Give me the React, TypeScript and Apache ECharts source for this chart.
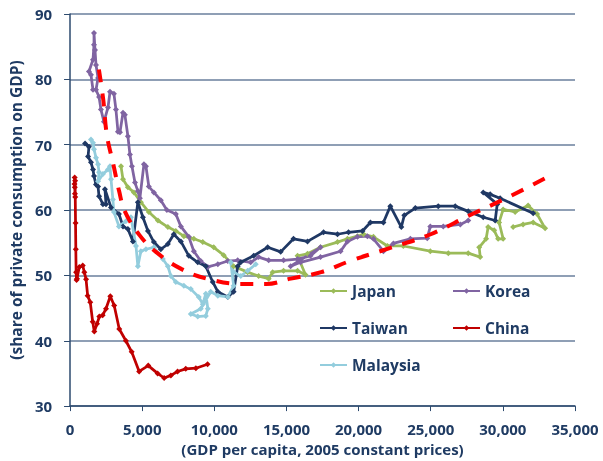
import React, { useEffect, useRef } from "react";
import * as echarts from "echarts";

// GDP per capita (2005 constant prices) vs share of private consumption in GDP (%)
const japan: [number, number][] = [
  [3530, 66.7], [3670, 64.7], [4010, 63.5], [4430, 62.7], [4910, 61.2], [5460, 59.7],
  [6090, 58.4], [6780, 57.4], [7330, 56.8], [7890, 56.0], [8580, 55.6], [9200, 55.1],
  [9960, 54.3], [10650, 53.1], [11340, 51.4], [12310, 50.5], [13070, 49.9], [13770, 49.5],
  [14040, 50.5], [14800, 50.7], [15770, 50.7], [16320, 50.1], [15770, 53.0], [16460, 53.3],
  [17360, 54.3], [18540, 55.1], [19230, 55.6], [19920, 56.0], [20340, 56.3], [21030, 55.9],
  [22000, 54.5], [23100, 54.5], [24970, 53.7], [26220, 53.4], [27600, 53.4], [28430, 52.8],
  [28360, 54.3], [28840, 55.6], [28980, 57.4], [29400, 56.9], [29670, 55.6], [30020, 55.6],
  [29740, 58.1], [30020, 60.1], [30850, 59.7], [31750, 60.7], [32370, 59.4], [32930, 57.2],
  [32100, 58.1], [31400, 57.8], [30710, 57.4]
];

const korea: [number, number][] = [
  [1590, 78.4], [1450, 80.7], [1310, 81.2], [1590, 83.0], [1660, 85.3], [1660, 87.1],
  [1730, 84.5], [1800, 82.2], [1940, 80.2], [1800, 78.4], [2010, 77.3], [2140, 75.4],
  [2350, 73.5], [2630, 75.7], [2770, 78.1], [3040, 77.8], [3180, 75.4], [3320, 72.0],
  [3460, 71.9], [3670, 74.9], [3800, 74.6], [4010, 71.3], [4150, 68.5], [4290, 66.7],
  [4500, 64.2], [4700, 62.9], [4840, 61.8], [5120, 67.0], [5260, 66.7], [5460, 63.6],
  [5810, 62.7], [6290, 61.5], [6710, 60.0], [7330, 59.4], [7680, 57.5], [8230, 55.9],
  [8580, 53.7], [9060, 52.2], [9550, 51.3], [10240, 51.7], [10930, 52.2], [11620, 52.3],
  [12520, 52.0], [13070, 52.8], [13770, 52.3], [14800, 52.3], [15770, 52.5], [16670, 53.0],
  [17360, 54.3], [15290, 51.4], [15980, 52.0], [17360, 52.8], [18750, 53.7], [19230, 55.2],
  [19920, 55.9], [20610, 56.0], [21030, 55.6], [21720, 53.7], [22410, 54.9], [23590, 55.6],
  [24760, 55.7], [24970, 57.5], [25870, 57.5], [27050, 57.8], [27600, 58.4]
];

const taiwan: [number, number][] = [
  [1040, 70.2], [1310, 69.7], [1250, 68.2], [1450, 67.3], [1590, 66.2], [1660, 65.2],
  [1800, 63.9], [1940, 63.6], [2010, 62.1], [2280, 60.9], [2490, 60.9], [2420, 63.2],
  [2840, 60.4], [3390, 59.4], [3670, 57.5], [4010, 57.1], [4360, 55.2], [4700, 61.2],
  [5050, 58.9], [5400, 56.8], [5810, 55.1], [6290, 54.0], [6780, 54.8], [7190, 56.3],
  [7680, 55.2], [8230, 53.0], [8850, 52.0], [9410, 51.4], [9890, 49.0], [10240, 47.5],
  [10930, 46.7], [11340, 47.5], [11620, 51.4], [11830, 52.0], [12730, 53.0], [13700, 54.3],
  [14600, 53.6], [15490, 55.6], [16460, 55.2], [17570, 56.6], [18540, 56.3], [19300, 56.6],
  [20270, 56.8], [20820, 58.1], [21720, 58.1], [22200, 60.6], [22960, 57.4], [23170, 59.2],
  [23930, 60.3], [25520, 60.6], [26700, 60.6], [27600, 59.8], [28640, 58.9], [29470, 58.4],
  [29610, 60.9], [28640, 62.7], [29120, 62.4], [29810, 61.8], [32100, 59.5]
];

const china: [number, number][] = [
  [310, 64.0], [320, 65.0], [330, 63.5], [340, 62.5], [350, 64.5], [360, 62.0],
  [380, 58.0], [400, 54.0], [420, 50.5], [450, 49.3], [480, 49.5], [640, 51.3],
  [880, 51.5], [990, 50.5], [1110, 49.4], [1220, 46.9], [1400, 45.9], [1570, 42.9],
  [1680, 41.4], [1870, 42.6], [2030, 43.7], [2260, 43.9], [2490, 44.9], [2790, 46.8],
  [3060, 45.4], [3410, 41.8], [3870, 40.0], [4270, 38.3], [4790, 35.3], [5420, 36.2],
  [6070, 35.0], [6520, 34.3], [6990, 34.7], [7450, 35.3], [8020, 35.7], [8720, 35.8],
  [9530, 36.4]
];

const malaysia: [number, number][] = [
  [1450, 70.8], [1590, 70.3], [1660, 69.3], [1800, 68.0], [1940, 67.0], [2010, 65.8],
  [1940, 64.4], [2280, 65.5], [2630, 66.2], [2770, 66.7], [2840, 64.7], [2970, 61.6],
  [3040, 59.7], [3390, 57.5], [3870, 58.3], [4220, 58.9], [4570, 54.5], [4700, 51.4],
  [4910, 53.7], [5260, 54.0], [5810, 54.3], [6430, 52.5], [6780, 51.4], [6990, 49.9],
  [7330, 49.0], [7890, 48.4], [8370, 47.9], [8920, 46.7], [9200, 45.6], [9410, 47.2],
  [9550, 44.9], [9410, 43.8], [8850, 43.7], [8370, 44.1], [9060, 44.9], [9750, 47.5],
  [10240, 46.9], [10930, 46.7], [11340, 48.4], [11140, 52.0], [11340, 50.5], [11830, 49.9],
  [12310, 50.7], [12870, 51.7]
];

const trend: [number, number][] = [
  [2000, 81.5], [2300, 76.9], [2550, 71.5], [3000, 67.0], [3400, 62.9], [3800, 59.8],
  [4800, 56.2], [5950, 53.6], [7700, 51.0], [9500, 49.5], [11800, 48.7], [13600, 48.7],
  [15300, 49.5], [17400, 50.5], [19400, 52.2], [22200, 54.2], [25000, 56.3], [27700, 59.2],
  [30500, 62.1], [33200, 65.2]
];

const xMin = 0, xMax = 35000, xStep = 5000;
const yMin = 30, yMax = 90, yStep = 10;
const xTitle = "(GDP per capita, 2005 constant prices)";
const yTitle = "(share of private consumption on GDP)";

const COLORS: Record<string, string> = {
  Japan: "#9bbb59",
  Korea: "#8064a2",
  Taiwan: "#1f3864",
  China: "#c00000",
  Malaysia: "#93cddd",
};

const TEXT = "#1f3b63";
const FONT = "Open Sans";

export default function App() {
  const ref = useRef<HTMLDivElement>(null);
  useEffect(() => {
    if (!ref.current) return;
    const chart = echarts.init(ref.current, null, { renderer: "svg" });
    const mk = (name: string, data: [number, number][]) => ({
      name,
      type: "line",
      data,
      symbol: "diamond",
      symbolSize: 6,
      showSymbol: true,
      lineStyle: { width: 2.75, color: COLORS[name] },
      itemStyle: { color: COLORS[name] },
      emphasis: { disabled: true },
    });
    const legendItem = (name: string, left: number, top: number) => ({
      data: [name],
      left,
      top,
      padding: 0,
      itemWidth: 27,
      itemHeight: 7,
      textStyle: { color: TEXT, fontFamily: FONT, fontWeight: "bold", fontSize: 15.5 },
      selectedMode: false,
    });
    chart.setOption({
      animation: false,
      grid: { left: 69, right: 28, top: 14, bottom: 53, containLabel: false },
      xAxis: {
        type: "value",
        min: xMin,
        max: xMax,
        interval: xStep,
        name: xTitle,
        nameLocation: "middle",
        nameGap: 32,
        nameTextStyle: { color: TEXT, fontFamily: FONT, fontWeight: "bold", fontSize: 15 },
        axisLine: { show: true, lineStyle: { color: "#2d4a6e", width: 1.5 } },
        axisTick: { show: true, length: 5, lineStyle: { color: "#2d4a6e", width: 1 } },
        splitLine: { show: false },
        axisLabel: {
          color: TEXT,
          fontFamily: FONT,
          fontWeight: "bold",
          fontSize: 15,
          margin: 15,
          formatter: (v: number) => v.toLocaleString("en-US"),
        },
      },
      yAxis: {
        type: "value",
        min: yMin,
        max: yMax,
        interval: yStep,
        name: yTitle,
        nameLocation: "middle",
        nameGap: 43,
        nameTextStyle: { color: TEXT, fontFamily: FONT, fontWeight: "bold", fontSize: 15.5 },
        axisLine: { show: true, lineStyle: { color: "#2d4a6e", width: 1.5 } },
        axisTick: { show: true, length: 6, lineStyle: { color: "#2d4a6e", width: 1 } },
        splitLine: { show: true, lineStyle: { color: "#6a7f9c", width: 1.5 } },
        axisLabel: {
          color: TEXT,
          fontFamily: FONT,
          fontWeight: "bold",
          fontSize: 15,
          margin: 18,
        },
      },
      legend: [
        legendItem("Japan", 319, 283),
        legendItem("Korea", 452, 283),
        legendItem("Taiwan", 319, 320),
        legendItem("China", 452, 320),
        legendItem("Malaysia", 319, 357),
      ],
      series: [
        mk("Japan", japan),
        mk("Korea", korea),
        mk("Taiwan", taiwan),
        mk("China", china),
        mk("Malaysia", malaysia),
        {
          name: "Trend",
          type: "line",
          data: trend,
          smooth: 0.4,
          showSymbol: false,
          z: 10,
          lineStyle: { color: "#ff0000", width: 4, type: [13, 11] },
          emphasis: { disabled: true },
        },
      ],
    });
    return () => chart.dispose();
  }, []);
  return (
    <div
      ref={ref}
      style={{ position: "fixed", left: 0, top: 0, width: 603, height: 461 }}
    />
  );
}
